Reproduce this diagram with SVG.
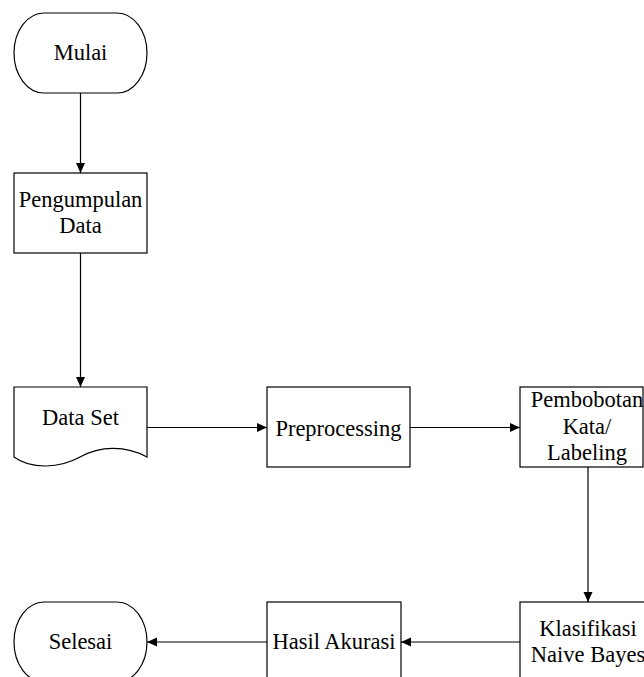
<svg xmlns="http://www.w3.org/2000/svg" width="644" height="677" viewBox="0 0 644 677">
<defs>
<marker id="arr" viewBox="0 0 10 10" refX="10" refY="5" markerWidth="10" markerHeight="10" markerUnits="userSpaceOnUse" orient="auto">
<path d="M0,0.5 L10,5 L0,9.5 Z" fill="#000"/>
</marker>
<style>
.s{fill:#fff;stroke:#000;stroke-width:1.2}
.t{font-size:22.5px;fill:#000;text-anchor:middle}
.c{fill:none;stroke:#000;stroke-width:1.2;marker-end:url(#arr)}
</style>
</defs>
<rect width="644" height="677" fill="#fff"/>
<g id="connectors">
<line class="c" x1="80.5" y1="93" x2="80.5" y2="173"/>
<line class="c" x1="80.5" y1="253" x2="80.5" y2="387"/>
<line class="c" x1="147" y1="427.5" x2="267" y2="427.5"/>
<line class="c" x1="410" y1="427.5" x2="520" y2="427.5"/>
<line class="c" x1="588" y1="467" x2="588" y2="602"/>
<line class="c" x1="520" y1="642" x2="401" y2="642"/>
<line class="c" x1="267" y1="642" x2="147" y2="642"/>
</g>
<g font-family="'Liberation Serif', 'Times New Roman', 'DejaVu Serif', serif">
<g id="mulai">
<rect class="s" x="14" y="13" width="133" height="80" rx="30" ry="40"/>
<text class="t" x="80.5" y="60">Mulai</text>
</g>
<g id="pengumpulan">
<rect class="s" x="14" y="173" width="133" height="80"/>
<text class="t" x="80.5" y="207">Pengumpulan</text>
<text class="t" x="80.5" y="233">Data</text>
</g>
<g id="dataset">
<path class="s" d="M14,387 H147 V457 C125,445 100,446 80,457 C60,468 32,470 14,457 Z"/>
<text class="t" x="80.5" y="425">Data Set</text>
</g>
<g id="preprocessing">
<rect class="s" x="267" y="387" width="143" height="80"/>
<text class="t" x="338.5" y="436">Preprocessing</text>
</g>
<g id="pembobotan">
<rect class="s" x="520" y="387" width="123" height="80"/>
<text class="t" x="587" y="407">Pembobotan</text>
<text class="t" x="587" y="434">Kata/</text>
<text class="t" x="587" y="460">Labeling</text>
</g>
<g id="klasifikasi">
<rect class="s" x="520" y="602" width="136" height="80"/>
<text class="t" x="588" y="636">Klasifikasi</text>
<text class="t" x="588" y="662">Naive Bayes</text>
</g>
<g id="hasil">
<rect class="s" x="267" y="602" width="134" height="80"/>
<text class="t" x="334" y="649">Hasil Akurasi</text>
</g>
<g id="selesai">
<rect class="s" x="14" y="602" width="133" height="80" rx="30" ry="40"/>
<text class="t" x="80.5" y="649">Selesai</text>
</g>
</g>
</svg>
